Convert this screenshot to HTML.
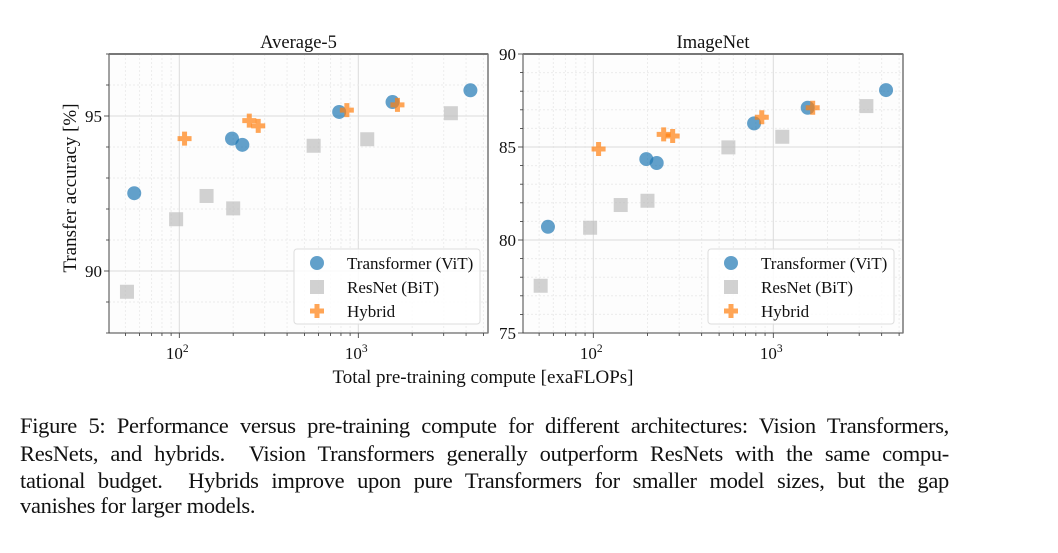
<!DOCTYPE html>
<html><head><meta charset="utf-8"><style>
body{margin:0;background:#fff;width:1058px;height:553px;overflow:hidden;position:relative;font-family:"Liberation Serif",serif}
svg{position:absolute;left:0;top:0}
.cap{position:absolute;left:20px;width:929px;font-size:22.5px;line-height:26.5px;text-align:justify;text-align-last:justify;color:#111;white-space:nowrap;letter-spacing:-0.3px}
.cap.last{text-align-last:left}
</style></head><body>
<svg id="fig" width="1058" height="400" xmlns="http://www.w3.org/2000/svg" font-family="Liberation Serif, serif"></svg>
<div>
<div class="cap" style="top:413px">Figure 5: Performance versus pre-training compute for different architectures: Vision Transformers,</div>
<div class="cap" style="top:441px">ResNets, and hybrids.&nbsp; Vision Transformers generally outperform ResNets with the same compu-</div>
<div class="cap" style="top:468px">tational budget.&nbsp; Hybrids improve upon pure Transformers for smaller model sizes, but the gap</div>
<div class="cap last" style="top:493px">vanishes for larger models.</div>
</div>
<script>
const vitX=[56,197,225,782,1553,4230];
const vitAvg=[92.51,94.27,94.07,95.13,95.45,95.83];
const vitIN=[80.71,84.35,84.14,86.27,87.11,88.06];
const resX=[51,96,142,200,563,1122,3290];
const resAvg=[89.33,91.67,92.42,92.02,94.04,94.25,95.09];
const resIN=[77.54,80.66,81.88,82.11,84.98,85.55,87.2];
const hybX=[107,246,276,863,1655];
const hybAvg=[94.27,94.85,94.68,95.19,95.36];
const hybIN=[84.89,85.68,85.59,86.6,87.11];
const avgTicks=[90,95];
const inTicks=[75,80,85,90];
const legendLabels=["Transformer (ViT)","ResNet (BiT)","Hybrid"];

const NS="http://www.w3.org/2000/svg";
const svg=document.getElementById('fig');
function el(t,a,p){const e=document.createElementNS(NS,t);for(const k in a)e.setAttribute(k,a[k]);(p||svg).appendChild(e);return e;}

function panel(o){
  const g=el('g',{});
  
  
  const {L,R,T,B,ymin,ymax}=o;
  const d10=o.d10;
  const xs=v=>o.x100+(Math.log10(v)-2)*d10;
  const ys=v=>B-(v-ymin)/(ymax-ymin)*(B-T);
  el('rect',{x:L,y:T,width:R-L,height:B-T,fill:'#fdfdfd'},g);
  for(let dec=10;dec<=1000;dec*=10)for(let m=1;m<10;m++){const v=dec*m;const x=xs(v);if(x<L||x>R)continue;
    const major=m===1;
    el('line',{x1:x,x2:x,y1:T,y2:B,stroke:major?'#dcdcdc':'#ececec','stroke-width':1,'stroke-dasharray':major?'':'2,2'},g);
    el('line',{x1:x,x2:x,y1:B,y2:B+(major?5:3),stroke:'#333','stroke-width':0.8},g);}
  for(let v=Math.ceil(ymin);v<=ymax;v++){const y=ys(v);const major=v%5===0;
    el('line',{x1:L,x2:R,y1:y,y2:y,stroke:major?'#dcdcdc':'#ececec','stroke-width':1,'stroke-dasharray':major?'':'2,2'},g);
    el('line',{x1:L-(major?5:3),x2:L,y1:y,y2:y,stroke:'#333','stroke-width':0.8},g);}
  o.ticks.forEach(v=>{const y=ys(v);const t=el('text',{x:L-7,y:y+6,'text-anchor':'end','font-size':17,fill:'#111'},g);t.textContent=v;
    });
  [100,1000].forEach((v,i)=>{const x=xs(v);const t=el('text',{x:x-2,y:B+26,'text-anchor':'middle','font-size':17,fill:'#111'},g);
    t.textContent='10';const s=el('tspan',{dy:-7,'font-size':11.5},t);s.textContent=i?'3':'2';
    });
  const tt=el('text',{x:(L+R)/2,y:T-6,'text-anchor':'middle','font-size':18.5,fill:'#111'},g);tt.textContent=o.title;
  
  function sq(x,y){const r=el('rect',{x:x-7,y:y-7,width:14,height:14,fill:'#bdbdbd','fill-opacity':0.7},g);}
  function ci(x,y){const c=el('circle',{cx:x,cy:y,r:7,fill:'#1f77b4','fill-opacity':0.7},g);}
  function pl(x,y){const p=el('path',{d:`M${x-2.5},${y-7}h5v4.5h4.5v5h-4.5v4.5h-5v-4.5h-4.5v-5h4.5z`,fill:'#ff7f0e','fill-opacity':0.7},g);}
  resX.forEach((v,i)=>sq(xs(v),ys(o.res[i])));
  vitX.forEach((v,i)=>ci(xs(v),ys(o.vit[i])));
  hybX.forEach((v,i)=>pl(xs(v),ys(o.hyb[i])));
  el('rect',{x:L,y:T,width:R-L,height:B-T,fill:'none',stroke:'#444','stroke-width':1},g);
  el('line',{x1:L,x2:R,y1:T,y2:T,stroke:'#777','stroke-width':2},g);
  el('line',{x1:R,x2:R,y1:T,y2:B,stroke:'#777','stroke-width':1.5},g);
  const lg=el('g',{},g);
  const lx=o.lx,ly=249;
  el('rect',{x:lx,y:ly,width:186,height:75,rx:3,fill:'#fff','fill-opacity':0.85,stroke:'#ddd'},lg);
  const mk=[ci,sq,pl];
  legendLabels.forEach((s,i)=>{const y=ly+14+i*24;
    const e=el('g',{},lg);
    mk[i](lx+23,y);const t=el('text',{x:lx+53,y:y+6,'font-size':17,fill:'#111'},e);t.textContent=s;});
}
panel({name:'average-5-panel',title:'Average-5',L:109,R:488,T:54,B:333,ymin:88,ymax:97,x100:179.3,d10:179,ticks:avgTicks,vit:vitAvg,res:resAvg,hyb:hybAvg,lx:294});
panel({name:'imagenet-panel',title:'ImageNet',L:523,R:903,T:54,B:333,ymin:75,ymax:90,x100:593.3,d10:180,ticks:inTicks,vit:vitIN,res:resIN,hyb:hybIN,lx:708});
const yl=el('text',{x:0,y:0,transform:'translate(76,188) rotate(-90)','text-anchor':'middle','font-size':19,fill:'#111'});yl.textContent='Transfer accuracy [%]';

const xl=el('text',{x:483,y:383,'text-anchor':'middle','font-size':19,fill:'#111'});xl.textContent='Total pre-training compute [exaFLOPs]';

</script>
</body></html>
